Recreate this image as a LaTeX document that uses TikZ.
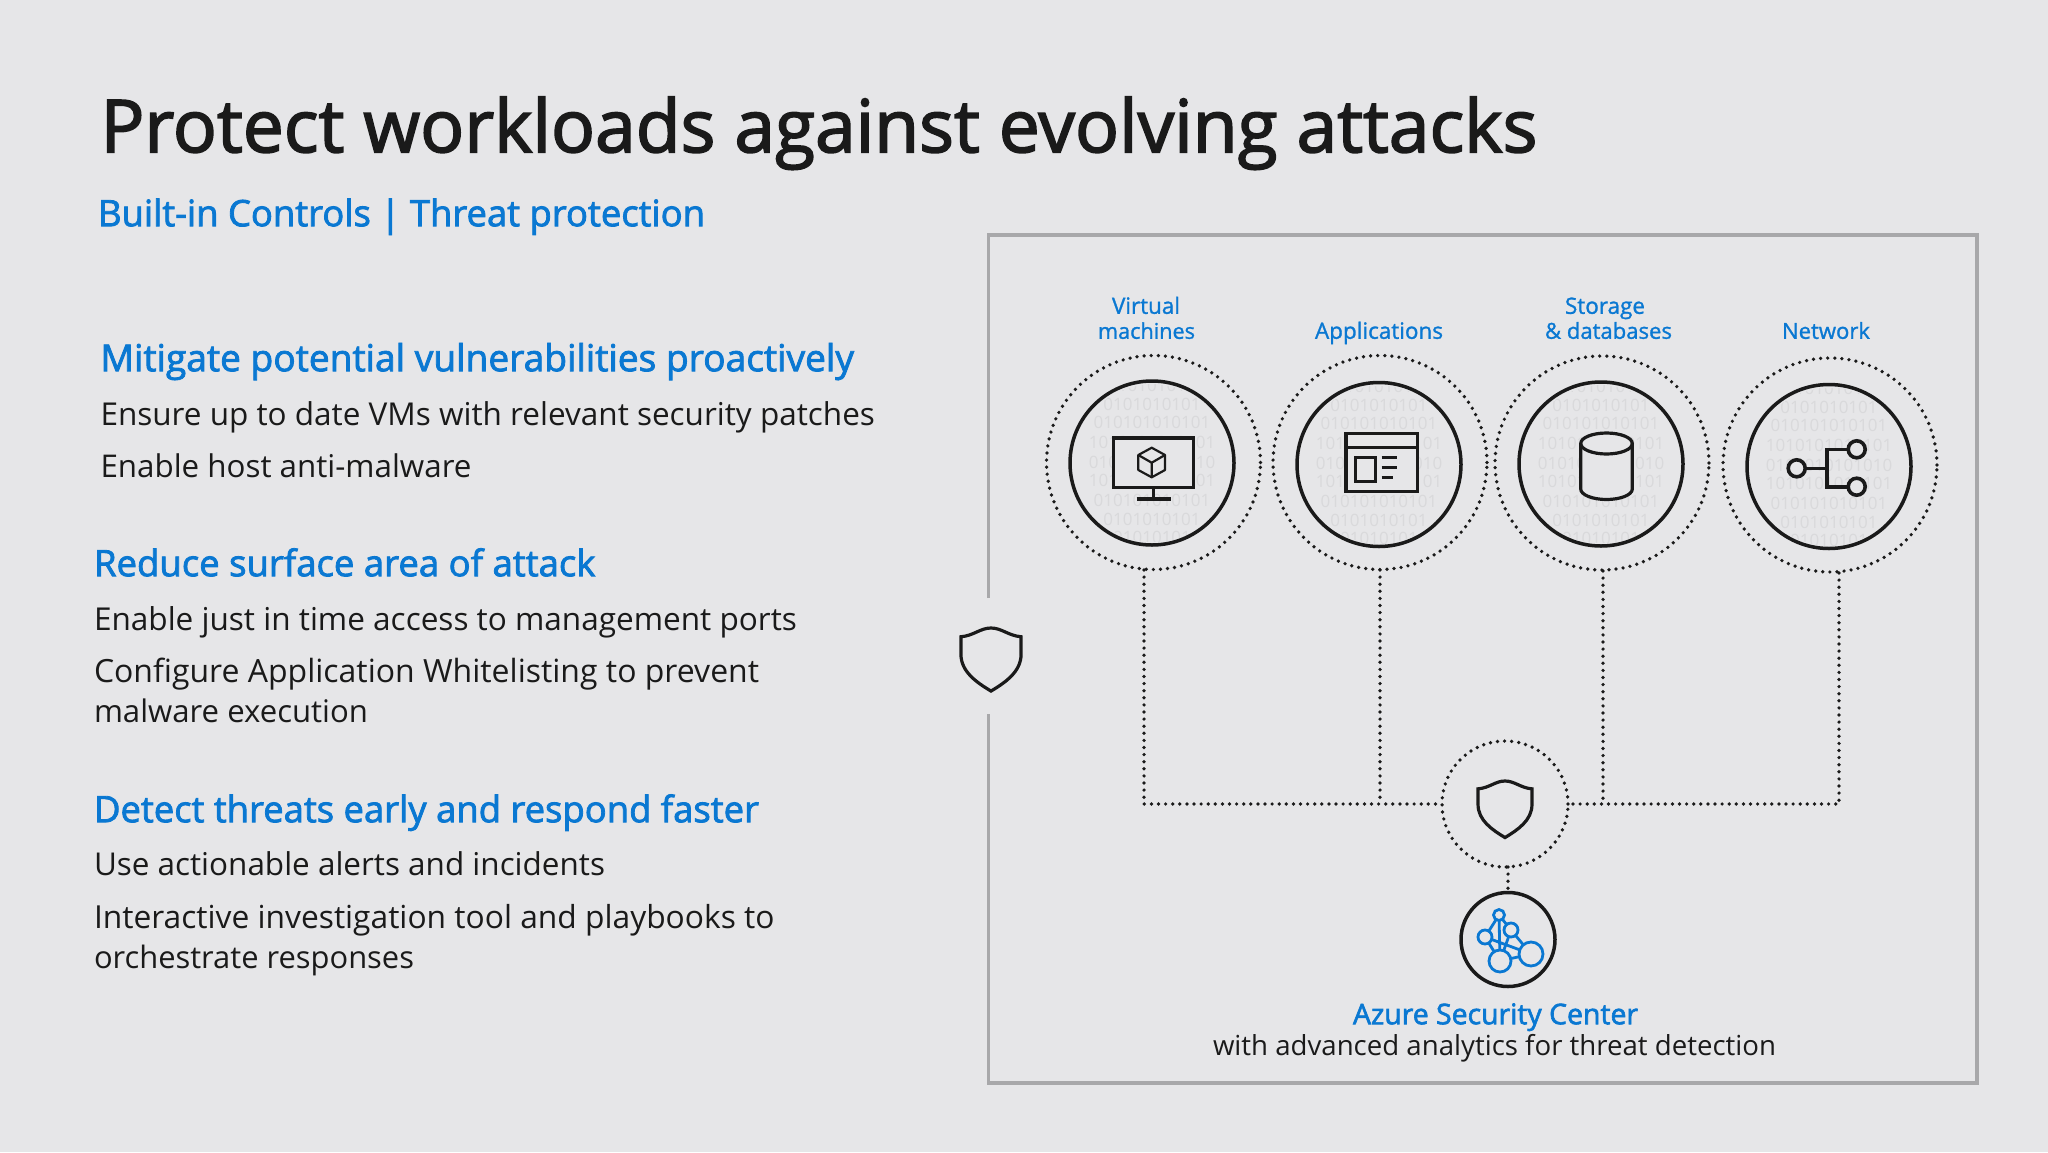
\documentclass[tikz,border=0pt]{standalone}
\usepackage{fontspec}
\setmainfont{Open Sans}
\newfontfamily\semi[FakeBold=2.2]{Open Sans}
\newfontfamily\smlabel[FakeBold=1.2]{Open Sans}
\newfontfamily\plain{Open Sans}
\definecolor{bg}{HTML}{E6E6E8}
\definecolor{ink}{HTML}{1A1A1A}
\definecolor{msblue}{HTML}{0A78D2}
\definecolor{frame}{HTML}{A8A8AA}
\definecolor{bits}{HTML}{D9D9DB}
\newlength\fitw
\newcommand{\fitline}[3]{\settowidth\fitw{#1\fontsize{20pt}{24pt}\selectfont #3}\pgfmathsetmacro\myfs{(#2/\fitw)*20}{#1\fontsize{\myfs pt}{\myfs pt}\selectfont #3}}
\tikzset{
  x=1pt,y=-1pt,
  txt/.style={anchor=base west,inner sep=0pt,outer sep=0pt,text=ink,yshift=0.8pt},
  head/.style={txt,text=msblue},
  lab/.style={anchor=base west,inner sep=0pt,outer sep=0pt,text=msblue,yshift=-0.8pt},
  ring/.style={circle,draw=ink,line width=3.5pt,minimum size=164pt,inner sep=0pt,outer sep=0pt},
  dotring/.style={circle,draw=ink,line width=3.7pt,line cap=round,dash pattern=on 0pt off 7.1pt,inner sep=0pt,outer sep=0pt},
  dotline/.style={draw=ink,line width=3.7pt,line cap=round,dash pattern=on 0pt off 7.1pt},
  icon/.style={draw=ink,line width=3.2pt},
  bluenet/.style={draw=msblue,line width=2.8pt},
  bitrow/.style={inner sep=0pt,outer sep=0pt,text=bits}
}
\newcommand{\binarybg}[3]{%
  \begin{scope}
    \clip (#2,#3) circle (79);
    \foreach \n/\dy/\s in {a/-78/010101010,b/-59/0101010101,c/-41/010101010101,d/-21/1010101010101,e/-1/0101010101010,f/17/1010101010101,g/37/010101010101,h/56/0101010101,k/74/01010101}
      \node[bitrow] (#1\n) at (#2,#3+\dy) {\plain\fontsize{17pt}{17pt}\selectfont\s};
  \end{scope}}
\newcommand{\shieldicon}[4]{%
  \begin{scope}[shift={(#1,#2)},scale=#3]
    \draw[draw=ink,line width=#4,line join=miter] (-31,9) .. controls (-18,8) and (-11,0) .. (0,0) .. controls (11,0) and (18,8) .. (31,9) -- (31,27) .. controls (31,45) and (15,56) .. (0,65) .. controls (-15,56) and (-31,45) .. (-31,27) -- cycle;
  \end{scope}}
\begin{document}
\begin{tikzpicture}
\useasboundingbox[fill=bg] (0,0) rectangle (2048,1152);

% frame with gap for the shield
\coordinate (frameA) at (988.5,598);
\coordinate (frameB) at (988.5,714);
\draw[draw=frame,line width=3.3pt] (frameA) -- (988.5,235) -- (1977,235) -- (1977,1083) -- (988.5,1083) -- (frameB);
\shieldicon{991}{628}{0.97}{3.2pt}

% texts
\node[txt] (title) at (100.5,153) {\fitline{\semi}{1437}{Protect workloads against evolving attacks}};
\node[head] (sub) at (98,227) {\fitline{\semi}{607}{Built-in Controls | Threat protection}};
\node[head] (h1) at (100.5,372) {\fitline{\semi}{753.5}{Mitigate potential vulnerabilities proactively}};
\node[txt] (l1) at (100.5,426) {\fitline{\plain}{774.5}{Ensure up to date VMs with relevant security patches}};
\node[txt] (l2) at (100.5,478) {\fitline{\plain}{371}{Enable host anti-malware}};
\node[head] (h2) at (94,577) {\fitline{\semi}{501.5}{Reduce surface area of attack}};
\node[txt] (l3) at (94,631) {\fitline{\plain}{703}{Enable just in time access to management ports}};
\node[txt] (l4) at (94,683) {\fitline{\plain}{665}{Configure Application Whitelisting to prevent}};
\node[txt] (l5) at (94,723.5) {\fitline{\plain}{274}{malware execution}};
\node[head] (h3) at (94,823) {\fitline{\semi}{665}{Detect threats early and respond faster}};
\node[txt] (l6) at (94,876) {\fitline{\plain}{511}{Use actionable alerts and incidents}};
\node[txt] (l7) at (94,929) {\fitline{\plain}{680.5}{Interactive investigation tool and playbooks to}};
\node[txt] (l8) at (94,969) {\fitline{\plain}{320}{orchestrate responses}};

\node[lab] (c1a) at (1112,313) {\fitline{\smlabel}{68}{Virtual}};
\node[lab] (c1b) at (1098,338) {\fitline{\smlabel}{97}{machines}};
\node[lab] (c2) at (1315,338) {\fitline{\smlabel}{128}{Applications}};
\node[lab] (c3a) at (1565,313) {\fitline{\smlabel}{80}{Storage}};
\node[lab] (c3b) at (1545,338) {\fitline{\smlabel}{127}{\& databases}};
\node[lab] (c4) at (1782,338) {\fitline{\smlabel}{88}{Network}};
\node[head] (asc) at (1353,1025) {\fitline{\semi}{285}{Azure Security Center}};
\node[txt,yshift=-1.2pt] (asc2) at (1213,1055) {\fitline{\plain}{563}{with advanced analytics for threat detection}};

% bit textures
\binarybg{vb}{1152}{463}
\binarybg{ab}{1379}{464.5}
\binarybg{sb}{1601}{464}
\binarybg{nb}{1829}{466.5}

% rings
\node[ring] (vm) at (1152,463) {};
\node[ring] (app) at (1379,464.5) {};
\node[ring] (sto) at (1601,464) {};
\node[ring] (net) at (1829,466.5) {};
\node[dotring,minimum size=214pt] (vmo) at (1153.5,462.5) {};
\node[dotring,minimum size=214pt] (appo) at (1380,462.5) {};
\node[dotring,minimum size=214pt] (stoo) at (1602,463) {};
\node[dotring,minimum size=214pt] (neto) at (1830,465) {};
\node[dotring,minimum size=126pt] (hub) at (1505,804) {};
\node[ring,minimum size=94pt] (asci) at (1508,939.5) {};

% connectors
\coordinate (d1) at (1144,570);
\coordinate (d2) at (1380,570);
\coordinate (d3) at (1603,571);
\coordinate (d4) at (1839,573);
\coordinate (j2) at (1380,804);
\coordinate (j3) at (1603,804);
\draw[dotline] (d1) |- (hub.west);
\draw[dotline] (d2) -- (j2);
\draw[dotline] (d3) -- (j3);
\draw[dotline] (d4) |- (hub.east);
\draw[dotline] (hub.south -| asci.north) -- (asci.north);

% monitor
\draw[icon,fill=bg] (1113.3,438) rectangle (1193.3,487.3);
\draw[icon] (1153.3,487.3) -- (1153.3,499);
\draw[icon] (1136.7,499) -- (1170.7,499);
\draw[draw=ink,line width=2.2pt,line join=round] (1151.7,447.7) -- (1165,455) -- (1165,470) -- (1151.7,477.3) -- (1138.3,470) -- (1138.3,455) -- cycle;
\draw[draw=ink,line width=2.2pt,line join=round] (1138.3,455) -- (1151.7,462.7) -- (1165,455) (1151.7,462.7) -- (1151.7,477.3);

% window
\draw[icon,fill=bg] (1346,433.3) rectangle (1417.7,491.7);
\draw[icon] (1346,447.7) -- (1417.7,447.7);
\draw[icon] (1355.7,457.7) rectangle (1375.7,481.7);
\draw[icon] (1381.7,457.7) -- (1397.3,457.7);
\draw[icon] (1381.7,467.3) -- (1397.3,467.3);
\draw[icon] (1381.7,477.3) -- (1392.7,477.3);

% cylinder
\draw[icon,fill=bg] (1580.7,443.5) -- (1580.7,489) arc[start angle=180,end angle=360,x radius=25.8,y radius=-10.5] -- (1632.3,443.5) arc[start angle=0,end angle=180,x radius=25.8,y radius=-10.5] -- cycle;
\draw[icon] (1580.7,443.5) arc[start angle=180,end angle=360,x radius=25.8,y radius=-10.5];

% network icon
\node[circle,icon,line width=3.6pt,fill=bg,minimum size=17pt,inner sep=0pt,outer sep=0pt] (n1) at (1796.7,468.3) {};
\node[circle,icon,line width=3.6pt,fill=bg,minimum size=17pt,inner sep=0pt,outer sep=0pt] (n2) at (1856.7,449.3) {};
\node[circle,icon,line width=3.6pt,fill=bg,minimum size=17pt,inner sep=0pt,outer sep=0pt] (n3) at (1856.7,486.7) {};
\coordinate (nb) at (1826.7,468.3);
\draw[icon,line width=3.6pt] (n1) -- (nb);
\draw[icon,line width=3.6pt] (n2) -- (1826.7,449.3) -- (1826.7,486.7) -- (n3);

% hub shield
\shieldicon{1505}{781}{0.87}{3.2pt}

% analytics icon
\node[circle,bluenet,minimum size=11pt,inner sep=0pt,outer sep=0pt] (g1) at (1499,915) {};
\node[circle,bluenet,minimum size=14pt,inner sep=0pt,outer sep=0pt] (g2) at (1485,937) {};
\node[circle,bluenet,minimum size=14pt,inner sep=0pt,outer sep=0pt] (g3) at (1511,930) {};
\node[circle,bluenet,minimum size=22pt,inner sep=0pt,outer sep=0pt] (g4) at (1500,961) {};
\node[circle,bluenet,minimum size=24pt,inner sep=0pt,outer sep=0pt] (g5) at (1531,954) {};
\draw[bluenet] (g1) -- (g2) (g1) -- (g3) (g1) -- (g4) (g2) -- (g4) (g2) -- (g5) (g3) -- (g5) (g3) -- (g4) (g4) -- (g5);
\end{tikzpicture}
\end{document}
